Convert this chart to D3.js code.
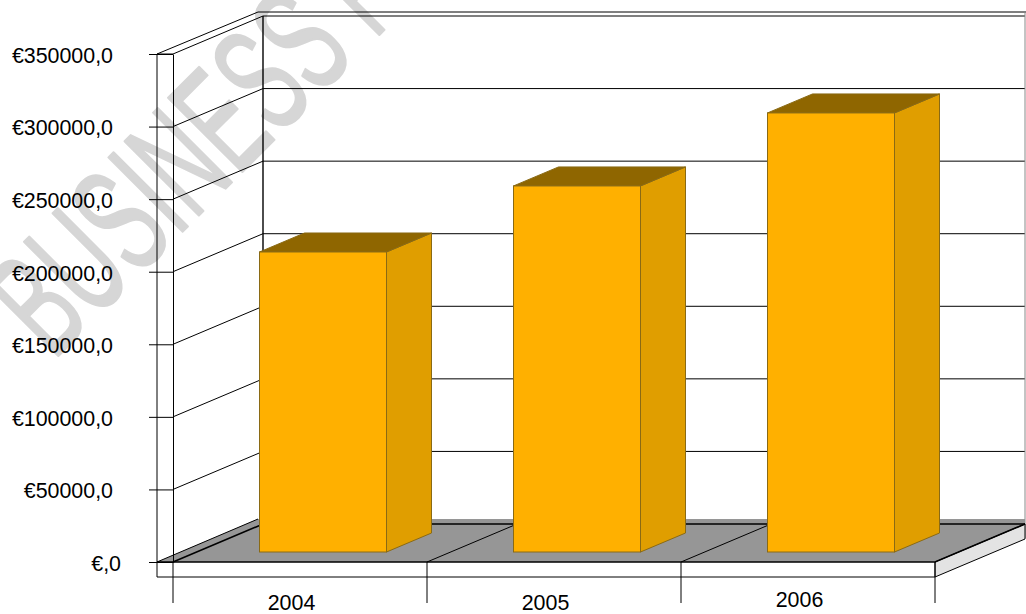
<!DOCTYPE html>
<html>
<head>
<meta charset="utf-8">
<script src="https://cdn.jsdelivr.net/npm/d3@7"></script>
<style>
  html, body { margin: 0; padding: 0; background: #fff; }
  svg { display: block; }
  text { font-family: "Liberation Sans", Arial, sans-serif; }
</style>
</head>
<body>
<svg id="svg" width="1026" height="614"></svg>
<script>
// Data
var years = ['2004', '2005', '2006'];
var values = [206700, 252200, 302500];
var yTicks = [0, 50000, 100000, 150000, 200000, 250000, 300000, 350000];
var watermark = 'BUSINESS P';

let svg = d3.select('#svg');

const plot = { left: 173, right: 935, top: 54, bottom: 562 };
// depth of the whole box, wall thickness and the depth of one bar
const depth = { x: 90, y: -38 };
const wall = { x: 16, y: 15 };
const barDepth = { x: 45, y: -19 };
const barOffset = { x: 23, y: -10 };

let x = d3.scaleBand()
  .domain(years)
  .range([plot.left, plot.right])
  .paddingInner(0.5)
  .paddingOuter(0.25);

let y = d3.scaleLinear()
  .domain([0, 350000])
  .range([plot.bottom, plot.top]);

const lineColor = '#000';
const path = pts => 'M' + pts.map(p => p.join(',')).join('L');

// Watermark goes first, the chart has no fill and sits over it
svg.append('text')
  .attr('transform', 'translate(53,361) rotate(-45) scale(0.56,1)')
  .attr('font-size', 152)
  .attr('fill', '#d6d6d6')
  .attr('stroke', '#d6d6d6')
  .attr('stroke-width', 2.5)
  .attr('stroke-linejoin', 'round')
  .text(watermark);

let backX = plot.right + depth.x;
let outerLeft = plot.left - wall.x;

// Gridlines: diagonal on the side wall, horizontal on the back wall
let grid = svg.append('g').attr('fill', 'none').attr('stroke', lineColor).attr('stroke-width', 1);
grid.selectAll('path')
  .data(yTicks.slice(1))
  .enter().append('path')
  .attr('d', d => path([
    [plot.left, y(d)],
    [plot.left + depth.x, y(d) + depth.y],
    [backX, y(d) + depth.y]
  ]));

// Top and back edges of the walls
grid.append('path').attr('stroke-width', 1.4).attr('d', path([
  [plot.left + depth.x, y(350000) + depth.y],
  [plot.left + depth.x, plot.bottom + depth.y]
]));
grid.append('path').attr('d', path([
  [outerLeft, plot.top],
  [outerLeft + depth.x + 11, plot.top + depth.y - 4],
  [1026, plot.top + depth.y - 4]
]));
grid.append('path').attr('stroke', '#888').attr('d', path([
  [backX, plot.top + depth.y - 4],
  [backX, plot.bottom + depth.y + 14]
]));

// Floor
let floor = svg.append('g');
floor.append('path')
  .attr('fill', '#969696')
  .attr('d', path([
    [outerLeft, plot.bottom],
    [plot.right, plot.bottom],
    [backX, plot.bottom + depth.y],
    [backX, plot.bottom + depth.y - 5],
    [outerLeft + depth.x + 11, plot.bottom + depth.y - 5]
  ]) + 'Z');
floor.append('path')
  .attr('fill', 'none')
  .attr('stroke', lineColor)
  .attr('d', path([
    [outerLeft, plot.bottom],
    [outerLeft + depth.x + 11, plot.bottom + depth.y - 5]
  ]));
floor.append('path')
  .attr('fill', 'none')
  .attr('stroke', lineColor)
  .attr('stroke-width', 1.6)
  .attr('d', path([
    [plot.left, plot.bottom],
    [plot.left + depth.x, plot.bottom + depth.y],
    [backX, plot.bottom + depth.y]
  ]));
// Category separators across the floor
floor.selectAll('.sep')
  .data(years.slice(1))
  .enter().append('path')
  .attr('class', 'sep')
  .attr('fill', 'none')
  .attr('stroke', lineColor)
  .attr('d', d => {
    let px = x(d) - x.step() * 0.25;
    return path([[px, plot.bottom], [px + depth.x, plot.bottom + depth.y]]);
  });

// Front edge of the floor slab
let slab = svg.append('g').attr('stroke', lineColor).attr('fill', 'none');
slab.append('path')
  .attr('fill', '#e3e3e3')
  .attr('d', path([
    [plot.right, plot.bottom],
    [backX, plot.bottom + depth.y],
    [backX, plot.bottom + depth.y + wall.y],
    [plot.right, plot.bottom + wall.y]
  ]) + 'Z');
slab.append('path').attr('stroke-width', 1.6).attr('d', path([
  [outerLeft, plot.bottom],
  [plot.right, plot.bottom],
  [backX, plot.bottom + depth.y]
]));
slab.append('path').attr('d', path([
  [outerLeft, plot.top],
  [outerLeft, plot.bottom + wall.y],
  [plot.right, plot.bottom + wall.y]
]));
slab.append('path').attr('d', path([[outerLeft, plot.top], [plot.left, plot.top]]));

// Bars: front, side and top faces
let bars = svg.selectAll('.bar')
  .data(years.map((d, i) => ({ year: d, value: values[i] })))
  .enter().append('g')
  .attr('class', 'bar')
  .attr('transform', 'translate(' + barOffset.x + ',' + barOffset.y + ')')
  .attr('stroke', '#8a6a14')
  .attr('stroke-width', 1);

bars.append('path')
  .attr('fill', '#e09e00')
  .attr('d', d => {
    let r = x(d.year) + x.bandwidth();
    return path([
      [r, y(d.value)],
      [r + barDepth.x, y(d.value) + barDepth.y],
      [r + barDepth.x, y(0) + barDepth.y],
      [r, y(0)]
    ]) + 'Z';
  });
bars.append('path')
  .attr('fill', '#8f6600')
  .attr('d', d => {
    let l = x(d.year), r = l + x.bandwidth(), t = y(d.value);
    return path([
      [l, t],
      [l + barDepth.x, t + barDepth.y],
      [r + barDepth.x, t + barDepth.y],
      [r, t]
    ]) + 'Z';
  });
bars.append('rect')
  .attr('fill', '#ffb000')
  .attr('x', d => x(d.year))
  .attr('y', d => y(d.value))
  .attr('width', x.bandwidth())
  .attr('height', d => y(0) - y(d.value));

// Y axis
let yAxis = svg.append('g')
  .attr('transform', 'translate(' + plot.left + ',0)')
  .call(d3.axisLeft(y)
    .tickValues(yTicks)
    .tickSizeInner(24)
    .tickSizeOuter(0)
    .tickPadding(36)
    .tickFormat(d => d === 0 ? '€,0' : '€' + d + ',0'));
yAxis.select('.domain').attr('stroke', lineColor);
yAxis.selectAll('.tick line').attr('stroke', lineColor);
yAxis.selectAll('text')
  .attr('font-size', 21.4)
  .attr('font-family', '"Liberation Sans", Arial, sans-serif')
  .attr('fill', '#000')
  .attr('y', 1.5)
  .attr('dx', d => d === 0 ? 8 : 0);

// X axis: separators below the floor, then the year labels
let xAxis = svg.append('g');
xAxis.selectAll('line')
  .data(d3.range(years.length + 1))
  .enter().append('line')
  .attr('x1', i => plot.left + i * x.step())
  .attr('x2', i => plot.left + i * x.step())
  .attr('y1', plot.bottom)
  .attr('y2', 603)
  .attr('stroke', lineColor);
xAxis.selectAll('text')
  .data(years)
  .enter().append('text')
  .attr('x', d => x(d) + x.bandwidth() / 2 - 8.5)
  .attr('y', d => d === '2006' ? 607 : 610)
  .attr('text-anchor', 'middle')
  .attr('font-size', 21.4)
  .attr('fill', '#000')
  .text(d => d);
</script>
</body>
</html>
